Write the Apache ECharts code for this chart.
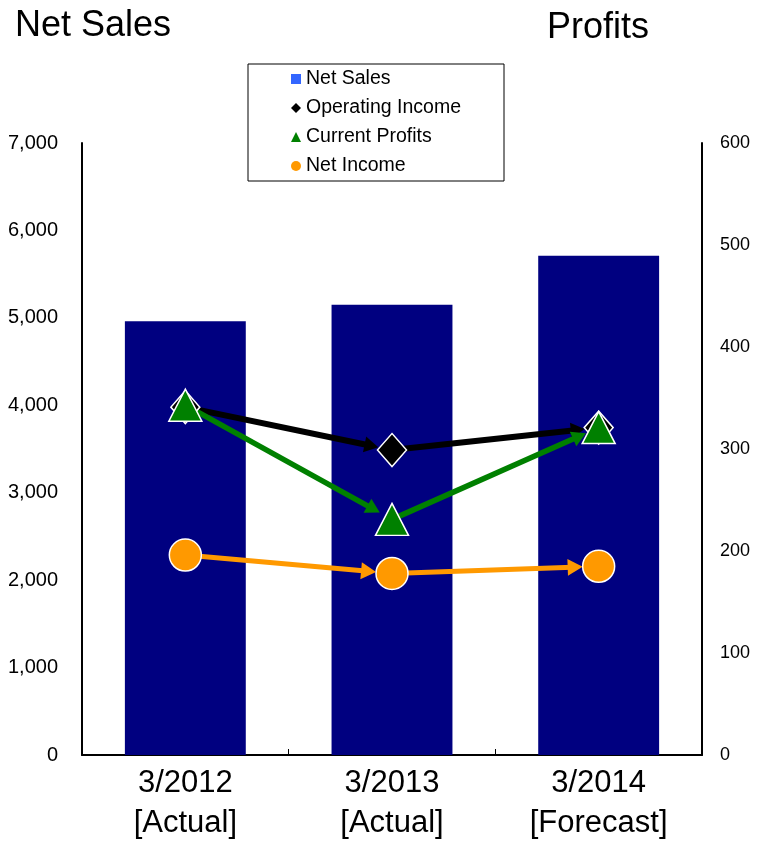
<!DOCTYPE html>
<html>
<head>
<meta charset="utf-8">
<script src="https://cdn.jsdelivr.net/npm/echarts@6/dist/echarts.min.js"></script>
<style>
  html, body { margin: 0; padding: 0; background: #fff; }
  #chart { width: 758px; height: 841px; }
</style>
</head>
<body>
<div id="chart"></div>
<script>
// Fiscal periods and results (net sales in left units, profits in right units)
const categories = ['3/2012\n[Actual]', '3/2013\n[Actual]', '3/2014\n[Forecast]'];
const netSales = [4960, 5150, 5710];
const operatingIncome = [341, 299, 321];
const currentProfits = [343, 231, 321];
const netIncome = [196, 178, 185];

const leftTicks = { min: 0, max: 7000, interval: 1000 };
const rightTicks = { min: 0, max: 600, interval: 100 };

const FONT = '"Liberation Sans", Arial, sans-serif';

// consecutive point pairs [x0, y0, x1, y1] for the arrow segments
function segments(values) {
  const out = [];
  for (let i = 0; i < values.length - 1; i++) {
    out.push([i, values[i], i + 1, values[i + 1]]);
  }
  return out;
}

// arrow from one point toward the next, stopping short of the marker
function arrowSeries(values, color, width, gap, headLen, headHalf) {
  return {
    type: 'custom',
    coordinateSystem: 'cartesian2d',
    yAxisIndex: 1,
    z: 3,
    silent: true,
    clip: false,
    encode: { x: [0, 2], y: [1, 3] },
    data: segments(values),
    renderItem: function (params, api) {
      const p0 = api.coord([api.value(0), api.value(1)]);
      const p1 = api.coord([api.value(2), api.value(3)]);
      const dx = p1[0] - p0[0], dy = p1[1] - p0[1];
      const len = Math.sqrt(dx * dx + dy * dy);
      const ux = dx / len, uy = dy / len;
      const nx = -uy, ny = ux;
      const tip = [p1[0] - ux * gap, p1[1] - uy * gap];
      const base = [tip[0] - ux * headLen, tip[1] - uy * headLen];
      const lineEnd = [tip[0] - ux * headLen * 0.7, tip[1] - uy * headLen * 0.7];
      return {
        type: 'group',
        children: [
          {
            type: 'line',
            shape: { x1: p0[0], y1: p0[1], x2: lineEnd[0], y2: lineEnd[1] },
            style: { stroke: color, lineWidth: width, lineCap: 'butt' }
          },
          {
            type: 'polygon',
            shape: {
              points: [
                tip,
                [base[0] + nx * headHalf, base[1] + ny * headHalf],
                [base[0] - nx * headHalf, base[1] - ny * headHalf]
              ]
            },
            style: { fill: color }
          }
        ]
      };
    }
  };
}

function markerSeries(name, values, symbol, size, color) {
  return {
    name: name,
    type: 'scatter',
    yAxisIndex: 1,
    z: 5,
    symbol: symbol,
    symbolSize: size,
    data: values,
    itemStyle: { color: color, borderColor: '#ffffff', borderWidth: 1.5, opacity: 1 },
    emphasis: { disabled: true }
  };
}

const chart = echarts.init(document.getElementById('chart'), null, { renderer: 'canvas' });

chart.setOption({
  animation: false,
  backgroundColor: '#ffffff',
  textStyle: { fontFamily: FONT },
  title: [
    { text: 'Net Sales', left: 15, top: 8, padding: 0,
      textStyle: { fontFamily: FONT, fontSize: 36, fontWeight: 'normal', color: '#000' } },
    { text: 'Profits', left: 547, top: 10, padding: 0,
      textStyle: { fontFamily: FONT, fontSize: 36, fontWeight: 'normal', color: '#000' } }
  ],
  legend: {
    orient: 'vertical',
    left: 248,
    top: 64,
    padding: [5, 43, 5, 43],
    borderColor: '#000',
    borderWidth: 1,
    backgroundColor: '#fff',
    itemWidth: 10,
    itemHeight: 10,
    itemGap: 9,
    selectedMode: false,
    textStyle: { fontFamily: FONT, fontSize: 19.5, color: '#000', lineHeight: 20 },
    data: [
      { name: 'Net Sales', icon: 'rect', itemStyle: { color: '#3366ff', borderWidth: 0 } },
      { name: 'Operating Income', icon: 'diamond', itemStyle: { color: '#000000', borderWidth: 0 } },
      { name: 'Current Profits', icon: 'triangle', itemStyle: { color: '#008000', borderWidth: 0 } },
      { name: 'Net Income', icon: 'circle', itemStyle: { color: '#ff9900', borderWidth: 0 } }
    ]
  },
  grid: { left: 82, right: 56, top: 143, bottom: 86, containLabel: false, outerBoundsMode: 'none' },
  xAxis: {
    type: 'category',
    data: categories,
    boundaryGap: true,
    axisLine: { lineStyle: { color: '#000', width: 2 } },
    axisTick: { show: true, inside: true, length: 6, lineStyle: { color: '#000', width: 1 } },
    axisLabel: { fontFamily: FONT, fontSize: 31, lineHeight: 40, color: '#000', margin: 8, interval: 0 },
    splitLine: { show: false }
  },
  yAxis: [
    {
      type: 'value',
      position: 'left',
      min: leftTicks.min, max: leftTicks.max, interval: leftTicks.interval,
      axisLine: { show: true, lineStyle: { color: '#000', width: 2 } },
      axisTick: { show: false },
      splitLine: { show: false },
      axisLabel: {
        fontFamily: FONT, fontSize: 20, color: '#000', margin: 24,
        formatter: v => v.toLocaleString('en-US')
      }
    },
    {
      type: 'value',
      position: 'right',
      min: rightTicks.min, max: rightTicks.max, interval: rightTicks.interval,
      axisLine: { show: true, lineStyle: { color: '#000', width: 2 } },
      axisTick: { show: false },
      splitLine: { show: false },
      axisLabel: { fontFamily: FONT, fontSize: 18, color: '#000', margin: 18 }
    }
  ],
  series: [
    {
      name: 'Net Sales',
      type: 'bar',
      yAxisIndex: 0,
      barWidth: '58.5%',
      data: netSales,
      itemStyle: { color: '#000080' },
      z: 1,
      emphasis: { disabled: true }
    },
    arrowSeries(operatingIncome, '#000000', 6, 14, 14, 8),
    arrowSeries(currentProfits, '#008000', 5.5, 14, 14, 8),
    arrowSeries(netIncome, '#ff9900', 5, 16, 15, 8.5),
    markerSeries('Operating Income', operatingIncome, 'diamond', [29, 33], '#000000'),
    markerSeries('Current Profits', currentProfits, 'triangle', [33, 32], '#008000'),
    markerSeries('Net Income', netIncome, 'circle', 32, '#ff9900')
  ]
});
</script>
</body>
</html>
